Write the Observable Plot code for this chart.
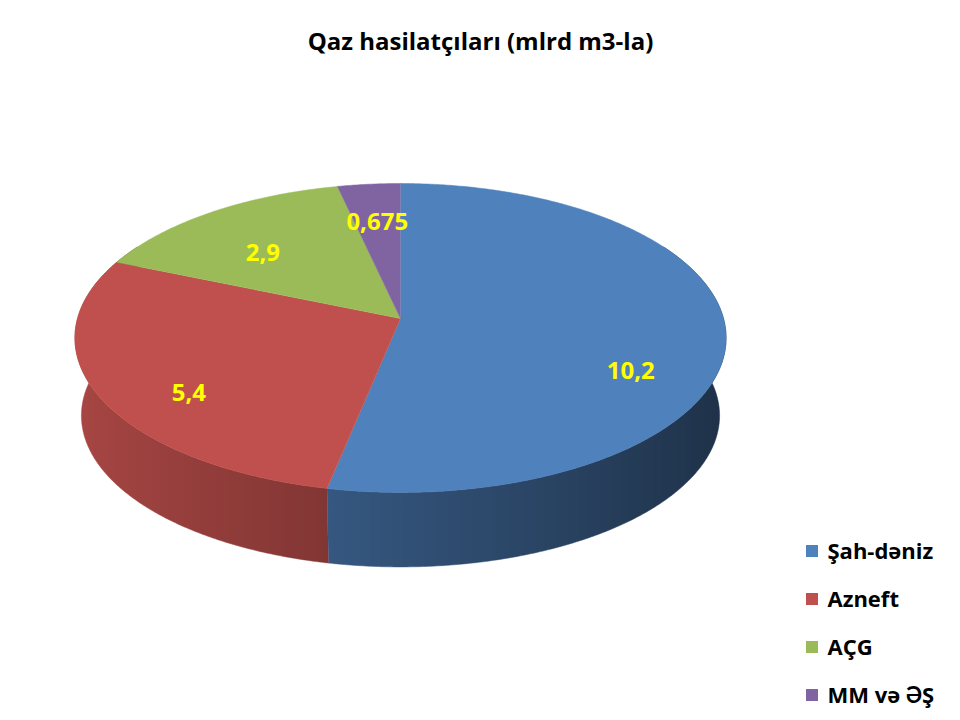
<!DOCTYPE html>
<html>
<head>
<meta charset="utf-8">
<script src="https://cdn.jsdelivr.net/npm/d3@7"></script>
<script src="https://cdn.jsdelivr.net/npm/@observablehq/plot@0.6"></script>
<style>
  html, body { margin: 0; padding: 0; background: #fff; }
  #chart { width: 960px; height: 720px; }
</style>
</head>
<body>
<div id="chart"></div>
<script>
// ---- data ----
const title = "Qaz hasilatçıları (mlrd m3-la)";
const categories = ["Şah-dəniz", "Azneft", "AÇG", "MM və ƏŞ"];
const values = [10.2, 5.4, 2.9, 0.675];
const valueLabels = ["10,2", "5,4", "2,9", "0,675"];
const colors = ["#4F81BD", "#C0504D", "#9BBB59", "#8064A2"];

// ---- 3D pie geometry (layout) ----
const CX = 400, CY = 318, RX = 323, RY = 152, P = 0.126, T = 78, SB = 0.98;
const DEG = Math.PI / 180;
function proj(theta, r, bottom) {
  const u = r * Math.sin(theta), v = -r * Math.cos(theta);
  const s = bottom ? SB : 1;
  const f = 1 / (1 - P * v);
  return [CX + RX * s * u * f, CY + (bottom ? T : 0) + RY * s * v * f];
}
function arcAngles(a0, a1) {
  const n = Math.max(2, Math.ceil((a1 - a0) / (0.5 * DEG)));
  return d3.range(n + 1).map(i => a0 + (a1 - a0) * i / n);
}
const shade = th => Math.max(0.38, 0.626 + 0.257 * Math.cos(th - 270 * DEG));

const total = d3.sum(values);
const arcs = d3.pie().sort(null).startAngle(0).endAngle(2 * Math.PI)(values);

// top faces
const tops = [];
arcs.forEach((a, i) => {
  tops.push({i, x: CX, y: CY});
  arcAngles(a.startAngle, a.endAngle).forEach(th => {
    const [x, y] = proj(th, 1, false);
    tops.push({i, x, y});
  });
});

// side walls (front part)
const walls = [];
const gradients = [];
arcs.forEach((a, i) => {
  const a0 = Math.max(a.startAngle, 60 * DEG), a1 = Math.min(a.endAngle, 300 * DEG);
  if (a1 <= a0) return;
  const ths = arcAngles(a0, a1);
  ths.forEach(th => { const [x, y] = proj(th, 1, false); walls.push({i, x, y}); });
  ths.slice().reverse().forEach(th => { const [x, y] = proj(th, 1, true); walls.push({i, x, y}); });
  const f0 = Math.max(a0, 90 * DEG), f1 = Math.min(a1, 270 * DEG);
  const stops = [];
  const c = d3.rgb(colors[i]);
  if (f1 > f0) {
    arcAngles(f0, f1).forEach(th => {
      const [x] = proj(th, 1, false);
      const k = shade(th);
      stops.push({off: x / 960, color: d3.rgb(c.r * k, c.g * k, c.b * k).formatHex()});
    });
  } else {
    stops.push({off: 0, color: d3.rgb(c.r * 0.5, c.g * 0.5, c.b * 0.5).formatHex()});
  }
  stops.sort((p, q) => p.off - q.off);
  gradients.push({i, stops});
});

// value labels: mid-angle, lowered in proportion to the slice's share of the slab depth
const labels = arcs.map((a, i) => {
  const th = (a.startAngle + a.endAngle) / 2;
  const [x, y] = proj(th, 0.71, false);
  return {x, y: y + T * values[i] / total, text: valueLabels[i]};
});

// legend
const legend = categories.map((c, i) => ({name: c, color: colors[i], y: 551 + 48 * i}));

const FONT = "'Open Sans', Lato, sans-serif";

const marks = [];
gradients.forEach(g => {
  marks.push(Plot.line(walls.filter(d => d.i === g.i), {
    x: "x", y: "y", fill: `url(#wall${g.i})`, stroke: `url(#wall${g.i})`, strokeWidth: 0.5, curve: "linear"
  }));
});
colors.forEach((c, i) => {
  marks.push(Plot.line(tops.filter(d => d.i === i), {
    x: "x", y: "y", fill: c, stroke: c, strokeWidth: 0.5, curve: "linear"
  }));
});
marks.push(
  Plot.text(labels, {x: "x", y: "y", text: "text", fill: "#FFFF00", fontSize: 24, fontWeight: "bold", fontFamily: FONT}),
  Plot.text([title], {frameAnchor: "top", dy: 32, text: d => d, fill: "#000", fontSize: 24, fontWeight: "bold", fontFamily: FONT}),
  Plot.rect(legend, {x1: 806, x2: 818, y1: d => d.y - 6, y2: d => d.y + 6, fill: "color"}),
  Plot.text(legend, {x: 827, y: "y", text: "name", textAnchor: "start", fill: "#000", fontSize: 22, fontWeight: "bold", fontFamily: FONT})
);

const chart = Plot.plot({
  width: 960, height: 720, margin: 0,
  x: {domain: [0, 960], range: [0, 960], axis: null},
  y: {domain: [0, 720], range: [0, 720], axis: null},
  color: {type: "identity"},
  style: {background: "#fff", fontFamily: FONT},
  marks
});

// gradient definitions for the side walls
const ns = "http://www.w3.org/2000/svg";
const defs = document.createElementNS(ns, "defs");
gradients.forEach(g => {
  const lg = document.createElementNS(ns, "linearGradient");
  lg.setAttribute("id", `wall${g.i}`);
  lg.setAttribute("gradientUnits", "userSpaceOnUse");
  lg.setAttribute("x1", 0); lg.setAttribute("x2", 960);
  lg.setAttribute("y1", 0); lg.setAttribute("y2", 0);
  g.stops.forEach(s => {
    const st = document.createElementNS(ns, "stop");
    st.setAttribute("offset", s.off);
    st.setAttribute("stop-color", s.color);
    lg.appendChild(st);
  });
  defs.appendChild(lg);
});
chart.insertBefore(defs, chart.firstChild);
document.getElementById("chart").appendChild(chart);
</script>
</body>
</html>
